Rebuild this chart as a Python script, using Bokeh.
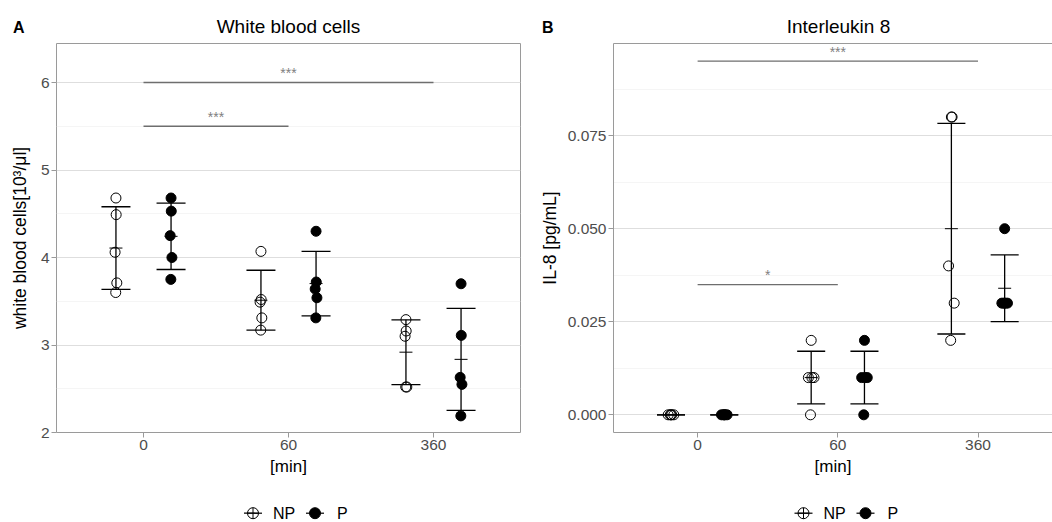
import numpy as np
from bokeh.plotting import figure
from bokeh.models import FixedTicker, LinearAxis, PrintfTickFormatter
from bokeh.layouts import row, column
from bokeh.embed import file_html
from bokeh.resources import INLINE

# ---------------- data ----------------
times = ["0", "60", "360"]
groups = ["NP", "P"]

wbc_np = [[4.68, 4.49, 4.06, 3.71, 3.60],
          [4.07, 3.52, 3.49, 3.31, 3.17],
          [3.29, 3.16, 3.10, 2.52, 2.52]]
wbc_p = [[4.68, 4.53, 4.25, 4.00, 3.75],
         [4.30, 3.72, 3.64, 3.54, 3.31],
         [3.70, 3.11, 2.63, 2.55, 2.19]]

il8_np = [[0.0, 0.0, 0.0, 0.0, 0.0],
          [0.02, 0.01, 0.01, 0.01, 0.0],
          [0.08, 0.08, 0.04, 0.03, 0.02]]
il8_p = [[0.0, 0.0, 0.0, 0.0, 0.0],
         [0.02, 0.01, 0.01, 0.01, 0.0],
         [0.05, 0.03, 0.03, 0.03, 0.03]]

wbc_sig_from = [1, 1]
wbc_sig_to = [3, 2]
wbc_sig_y = [6.0, 5.5]
wbc_sig_lab = ["***", "***"]

il8_sig_from = [1, 1]
il8_sig_to = [3, 2]
il8_sig_y = [0.095, 0.035]
il8_sig_lab = ["***", "*"]

wbc_ticks = [2, 3, 4, 5, 6]
wbc_minor = [2.5, 3.5, 4.5, 5.5]
il8_ticks = [0.0, 0.025, 0.05, 0.075]
il8_minor = [0.0125, 0.0375, 0.0625, 0.0875]

panel_letters = ["A", "B"]
panel_titles = ["White blood cells", "Interleukin 8"]
y_titles = ["white blood cells[10³/μl]", "IL-8 [pg/mL]"]
x_title = "[min]"

# ---------------- style ----------------
FONT = "Liberation Sans"
DODGE = 0.19
JIT = [0.0, 0.005, -0.02, 0.02, -0.005]
FRAME_C = "#9a9a9a"
TICK_C = "#4D4D4D"
W = 1052
HEAD_H = 38
LEG_H = 32
MAIN_H = 522 - HEAD_H - LEG_H


def make_panel(vals_np, vals_p, sfrom, sto, sy, slab, yr, yticks, yminor, fmt,
               ylabel, width, left, right, x_end, jit_scale, ylab_standoff, cropped):
    p = figure(width=width, height=MAIN_H, x_range=(0.4, x_end), y_range=yr,
               output_backend="svg", toolbar_location=None,
               min_border_left=left, min_border_right=right,
               min_border_top=5, min_border_bottom=58)
    p.background_fill_color = "white"
    p.border_fill_color = "white"
    p.outline_line_color = None if cropped else FRAME_C
    p.outline_line_width = 1

    p.xaxis.ticker = FixedTicker(ticks=[1, 2, 3])
    p.xaxis.major_label_overrides = {i + 1: t for i, t in enumerate(times)}
    p.yaxis.ticker = FixedTicker(ticks=yticks, minor_ticks=yminor)
    p.yaxis.formatter = PrintfTickFormatter(format=fmt)
    for ax in (p.xaxis, p.yaxis):
        ax.major_tick_out = 5
        ax.major_tick_in = 0
        ax.minor_tick_line_color = None
        ax.major_tick_line_color = FRAME_C
        ax.axis_line_color = FRAME_C if cropped else None
        ax.major_label_text_font = FONT
        ax.major_label_text_font_size = "15.5px"
        ax.major_label_text_color = TICK_C
        ax.major_label_standoff = 2
        ax.axis_label_text_font = FONT
        ax.axis_label_text_font_size = "17px"
        ax.axis_label_text_font_style = "normal"
        ax.axis_label_text_color = "black"
    p.xaxis.axis_label = x_title
    p.xaxis.axis_label_standoff = 4
    p.yaxis.axis_label = ylabel
    p.yaxis.axis_label_standoff = ylab_standoff
    p.yaxis.axis_label_text_font_size = "17.5px"
    if cropped:
        top = LinearAxis(ticker=FixedTicker(ticks=[]), axis_line_color=FRAME_C,
                         major_tick_line_color=None, minor_tick_line_color=None,
                         major_tick_out=0, major_label_standoff=0,
                         major_label_text_font_size="0px")
        p.add_layout(top, "above")

    p.xgrid.grid_line_color = None
    p.ygrid.grid_line_color = "#DEDEDE"
    p.ygrid.grid_line_width = 1.1
    p.ygrid.minor_grid_line_color = "#F2F2F2"
    p.ygrid.minor_grid_line_width = 0.8

    # significance brackets
    p.segment(x0=sfrom, y0=sy, x1=sto, y1=sy, line_color="#6e6e6e", line_width=1.3)
    p.text(x=[(a + b) / 2 for a, b in zip(sfrom, sto)], y=sy, text=slab,
           text_align="center", text_baseline="alphabetic", y_offset=-9.5,
           text_font_size="14px", text_color="#808080", text_font={"value": FONT})

    for g, (vals, off) in enumerate(((vals_np, -DODGE), (vals_p, DODGE))):
        xs, ys = [], []
        ex, lo, hi, mean = [], [], [], []
        for i, v in enumerate(vals):
            arr = np.array(v, dtype=float)
            for k, val in enumerate(arr):
                xs.append(i + 1 + off + JIT[k] * jit_scale)
                ys.append(val)
            m = arr.mean()
            s = arr.std(ddof=1)
            ex.append(i + 1 + off)
            lo.append(m - s)
            hi.append(m + s)
            mean.append(m)
        ex = np.array(ex)
        p.segment(x0=ex, y0=lo, x1=ex, y1=hi, line_color="black", line_width=1.3)
        p.segment(x0=ex - 0.1, y0=lo, x1=ex + 0.1, y1=lo, line_color="black", line_width=1.3)
        p.segment(x0=ex - 0.1, y0=hi, x1=ex + 0.1, y1=hi, line_color="black", line_width=1.3)
        p.scatter(x=ex, y=mean, marker="dash", size=13, line_color="black", line_width=1.0)
        p.scatter(x=xs, y=ys, marker="circle", size=10,
                  fill_color=None if g == 0 else "black",
                  line_color="black", line_width=1.0)
    return p


pA = make_panel(wbc_np, wbc_p, wbc_sig_from, wbc_sig_to, wbc_sig_y, wbc_sig_lab,
                (2.0, 6.446), wbc_ticks, wbc_minor, "%d", y_titles[0],
                530, 56, 10, 3.6, 0.3, 8, False)
pB = make_panel(il8_np, il8_p, il8_sig_from, il8_sig_to, il8_sig_y, il8_sig_lab,
                (-0.00475, 0.09975), il8_ticks, il8_minor, "%.3f", y_titles[1],
                522, 83, 0, 0.4 + (522 - 83) / 140.2, 1.0, 5, True)

# ---------------- header strip (panel letters and titles) ----------------
head = figure(width=W, height=HEAD_H, x_range=(0, W), y_range=(HEAD_H, 0),
              output_backend="svg", toolbar_location=None,
              x_axis_type=None, y_axis_type=None,
              min_border_left=0, min_border_right=0, min_border_top=0, min_border_bottom=0)
head.outline_line_color = None
head.xgrid.grid_line_color = None
head.ygrid.grid_line_color = None
head.text(x=[12.5, 541.5], y=[27.0, 27.0], text=panel_letters, text_align="left",
          text_baseline="alphabetic", text_font={"value": FONT}, text_font_size="16px",
          text_font_style="bold", text_color="black")
head.text(x=[288, 838], y=[26.3, 26.3], text=panel_titles, text_align="center",
          text_baseline="alphabetic", text_font={"value": FONT}, text_font_size="19px",
          text_color="black")

# ---------------- legend strip (key for both panels) ----------------
leg = figure(width=W, height=LEG_H, x_range=(0, W), y_range=(0, LEG_H),
             output_backend="svg", toolbar_location=None,
             x_axis_type=None, y_axis_type=None,
             min_border_left=0, min_border_right=0, min_border_top=0, min_border_bottom=0)
leg.outline_line_color = None
leg.xgrid.grid_line_color = None
leg.ygrid.grid_line_color = None
KEY_Y = 9.3
for c in (252.5, 803.0):
    kx = np.array([c, c + 62])
    leg.segment(x0=kx - 9, y0=KEY_Y, x1=kx + 9, y1=KEY_Y, line_color="black", line_width=1.2)
    leg.scatter(x=[kx[0]], y=[KEY_Y], marker="circle_cross", size=11, fill_color=None,
                line_color="black", line_width=1.0)
    leg.scatter(x=[kx[1]], y=[KEY_Y], marker="circle", size=11, fill_color="black",
                line_color="black", line_width=1.0)
    leg.text(x=kx + np.array([20, 22]), y=[KEY_Y, KEY_Y], text=groups, text_align="left",
             text_baseline="middle", text_font={"value": FONT}, text_font_size="16px",
             text_color="black")

layout = column(head, row(pA, pB), leg)
open("out.html", "w").write(file_html(layout, INLINE))
